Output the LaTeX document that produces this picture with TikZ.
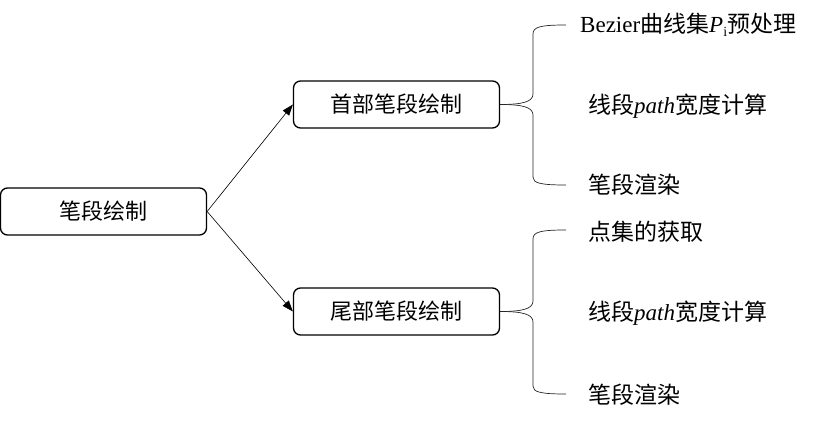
\documentclass[tikz,border=0pt]{standalone}
\usepackage{fontspec}
\setmainfont{Liberation Serif}
\newfontfamily\cjk{Noto Sans CJK SC}
\usetikzlibrary{arrows.meta}
\begin{document}
\begin{tikzpicture}[x=1pt,y=-1pt,
  box/.style={draw, line width=1.3pt, rounded corners=7pt, minimum width=206pt, minimum height=47pt, inner sep=0pt, font=\cjk\fontsize{22}{26}\selectfont},
  lbl/.style={anchor=west, inner sep=0pt, font=\fontsize{23}{27}\selectfont},
  brace/.style={line width=0.7pt, black!85},
  arr/.style={-{Triangle[length=11pt,width=8pt]}, line width=0.6pt}]
\useasboundingbox (0,0) rectangle (831,423);
\node[box] (m) at (103.5,211.5) {笔段绘制};
\node[box] (t) at (396.5,104.5) {首部笔段绘制};
\node[box] (b) at (396.5,311.5) {尾部笔段绘制};
\draw[arr] (m.east) -- (t.west);
\draw[arr] (m.east) -- (b.west);
% labels
\node[lbl] (t1) at (580,25) {Bezier{\cjk 曲线集}\textit{P}\raisebox{-0.35ex}{\fontsize{14}{16}\selectfont i}{\cjk 预处理}};
\node[lbl] (t2) at (588,106) {{\cjk 线段}\textit{path}{\cjk 宽度计算}};
\node[lbl] (t3) at (588,185) {\cjk 笔段渲染};
\node[lbl] (b1) at (588,232) {\cjk 点集的获取};
\node[lbl] (b2) at (588,313) {{\cjk 线段}\textit{path}{\cjk 宽度计算}};
\node[lbl] (b3) at (588,395) {\cjk 笔段渲染};
% braces
\coordinate (ta) at (566,25);
\coordinate (tb) at (566,185);
\coordinate (ba) at (566,230);
\coordinate (bb) at (566,394);
\draw[brace] (t.east) .. controls (522,104.5) and (533,102) .. (533,94) -- (533,34) .. controls (533,27) and (540,25) .. (ta);
\draw[brace] (t.east) .. controls (522,104.5) and (533,107) .. (533,115) -- (533,177) .. controls (533,183) and (540,185) .. (tb);
\draw[brace] (b.east) .. controls (522,311.5) and (533,309) .. (533,301) -- (533,239) .. controls (533,232) and (540,230) .. (ba);
\draw[brace] (b.east) .. controls (522,311.5) and (533,314) .. (533,322) -- (533,386) .. controls (533,392) and (540,394) .. (bb);
\end{tikzpicture}
\end{document}
